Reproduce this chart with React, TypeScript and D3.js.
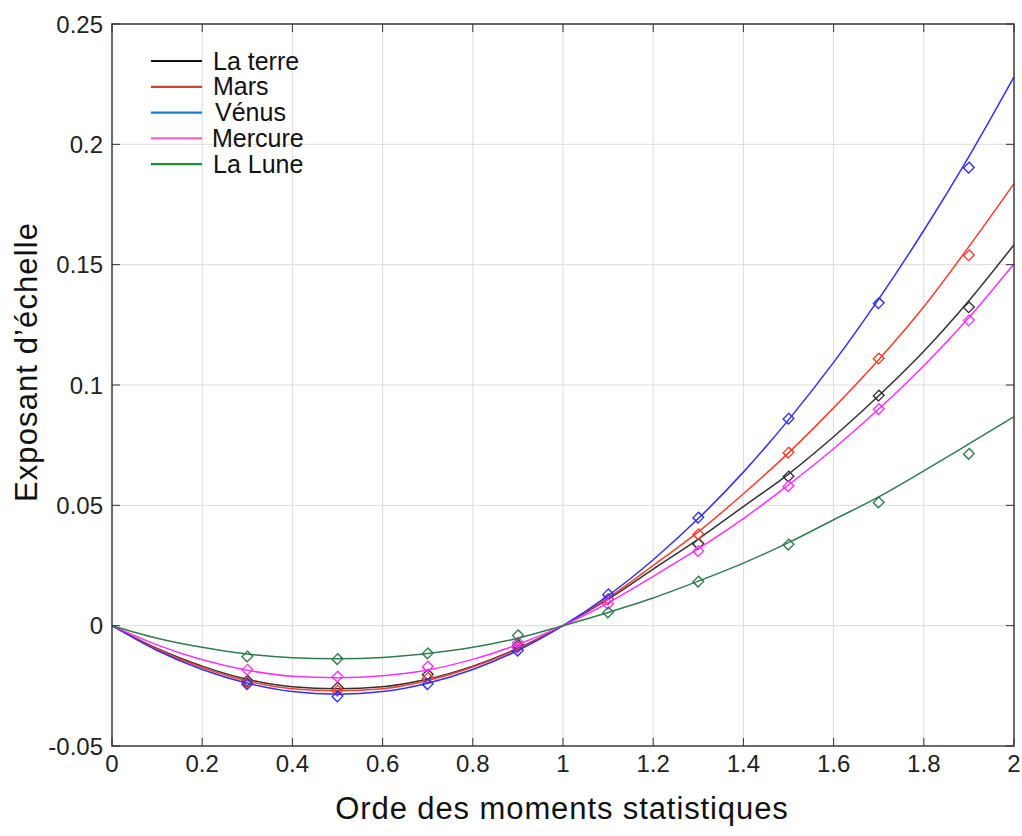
import React, { useEffect, useRef } from 'react';
import * as d3 from 'd3';

// fitted curve, read at q = 0, 0.1, ..., 2
const curveQ = [0, 0.1, 0.2, 0.3, 0.4, 0.5, 0.6, 0.7, 0.8, 0.9, 1, 1.1, 1.2, 1.3, 1.4, 1.5, 1.6, 1.7, 1.8, 1.9, 2];
const terreCurve = [0, -0.0095, -0.0168, -0.0223, -0.0254, -0.0262, -0.0254, -0.0222, -0.0168, -0.0094, 0, 0.011, 0.0235, 0.036, 0.0495, 0.063, 0.0785, 0.0955, 0.114, 0.135, 0.1583];
const marsCurve = [0, -0.0098, -0.0174, -0.023, -0.0262, -0.027, -0.0262, -0.0228, -0.0172, -0.0097, 0, 0.0115, 0.025, 0.039, 0.0548, 0.0718, 0.0905, 0.1105, 0.1325, 0.1575, 0.1837];
const venusCurve = [0, -0.0103, -0.0182, -0.0239, -0.0274, -0.0285, -0.0274, -0.0239, -0.0182, -0.0103, 0, 0.0125, 0.0274, 0.0445, 0.0638, 0.0855, 0.1094, 0.1357, 0.1642, 0.1949, 0.228];
const mercureCurve = [0, -0.008, -0.0142, -0.0185, -0.021, -0.0216, -0.0208, -0.0184, -0.014, -0.0078, 0, 0.0095, 0.0205, 0.032, 0.0445, 0.0585, 0.0735, 0.09, 0.108, 0.128, 0.1504];
const luneCurve = [0, -0.0052, -0.009, -0.0118, -0.0133, -0.0137, -0.0132, -0.0116, -0.009, -0.0052, 0, 0.0055, 0.0115, 0.0185, 0.026, 0.0345, 0.044, 0.0535, 0.0643, 0.0755, 0.0868];

// measured points
const pointQ = [0.3, 0.5, 0.7, 0.9, 1.1, 1.3, 1.5, 1.7, 1.9];
const terrePts = [-0.0229, -0.0257, -0.0203, -0.0081, 0.011, 0.034, 0.062, 0.0956, 0.1323];
const marsPts = [-0.0236, -0.027, -0.0217, -0.009, 0.011, 0.038, 0.0719, 0.111, 0.1539];
const venusPts = [-0.0243, -0.0294, -0.0243, -0.0104, 0.013, 0.0449, 0.086, 0.134, 0.1903];
const mercurePts = [-0.0183, -0.0212, -0.017, -0.007, 0.009, 0.031, 0.058, 0.09, 0.1269];
const lunePts = [-0.0128, -0.0139, -0.0115, -0.004, 0.0055, 0.0183, 0.0337, 0.0512, 0.0714];

const names = ['La terre', 'Mars', 'Vénus', 'Mercure', 'La Lune'];
const xTicks = [0, 0.2, 0.4, 0.6, 0.8, 1, 1.2, 1.4, 1.6, 1.8, 2];
const yTicks = [-0.05, 0, 0.05, 0.1, 0.15, 0.2, 0.25];

const series = [
  { name: names[0], curve: terreCurve, pts: terrePts, color: '#333333', legend: '#111111' },
  { name: names[1], curve: marsCurve, pts: marsPts, color: '#ff3b2a', legend: '#d8401e' },
  { name: names[2], curve: venusCurve, pts: venusPts, color: '#3030ff', legend: '#1f78d0' },
  { name: names[3], curve: mercureCurve, pts: mercurePts, color: '#ff30ff', legend: '#f064c8' },
  { name: names[4], curve: luneCurve, pts: lunePts, color: '#2f7d4c', legend: '#1a8c3c' },
];

const W = 1022;
const H = 836;
const margin = { top: 24, right: 8, bottom: 90, left: 112 };

export default function App() {
  const svgRef = useRef<SVGSVGElement>(null);

  useEffect(() => {
    if (!svgRef.current) return;
    const svg = d3.select(svgRef.current);
    svg.selectAll('*').remove();

    const iw = W - margin.left - margin.right;
    const ih = H - margin.top - margin.bottom;
    const x = d3.scaleLinear().domain([0, 2]).range([0, iw]);
    const y = d3.scaleLinear().domain([-0.05, 0.25]).range([ih, 0]);

    const g = svg.append('g').attr('transform', `translate(${margin.left},${margin.top})`);
    const font = '"Liberation Sans", Arial, sans-serif';

    // grid
    g.append('g').selectAll('line').data(xTicks.slice(1, -1)).enter().append('line')
      .attr('x1', d => x(d)).attr('x2', d => x(d)).attr('y1', 0).attr('y2', ih)
      .attr('stroke', '#dcdcdc').attr('stroke-width', 1);
    g.append('g').selectAll('line').data(yTicks.slice(1, -1)).enter().append('line')
      .attr('y1', d => y(d)).attr('y2', d => y(d)).attr('x1', 0).attr('x2', iw)
      .attr('stroke', '#dcdcdc').attr('stroke-width', 1);

    // curves
    const line = d3.line<number>()
      .x((_, i) => x(curveQ[i]))
      .y(d => y(d))
      .curve(d3.curveMonotoneX);

    const diamond = d3.symbol().type(d3.symbolSquare).size(52);

    series.forEach(s => {
      g.append('path')
        .datum(s.curve)
        .attr('fill', 'none')
        .attr('stroke', s.color)
        .attr('stroke-width', 1.5)
        .attr('d', line);
      g.append('g').selectAll('path').data(s.pts).enter().append('path')
        .attr('d', diamond)
        .attr('transform', (d, i) => `translate(${x(pointQ[i])},${y(d)}) rotate(45) scale(1,1.1)`)
        .attr('fill', 'none')
        .attr('stroke', s.color)
        .attr('stroke-width', 1.3);
    });

    // frame
    g.append('rect')
      .attr('x', 0).attr('y', 0).attr('width', iw).attr('height', ih)
      .attr('fill', 'none').attr('stroke', '#3a3a3a').attr('stroke-width', 1.5);

    // inner ticks on all sides
    const tk = 8;
    xTicks.forEach(t => {
      g.append('line').attr('x1', x(t)).attr('x2', x(t)).attr('y1', ih).attr('y2', ih - tk).attr('stroke', '#333');
      g.append('line').attr('x1', x(t)).attr('x2', x(t)).attr('y1', 0).attr('y2', tk).attr('stroke', '#333');
    });
    yTicks.forEach(t => {
      g.append('line').attr('y1', y(t)).attr('y2', y(t)).attr('x1', 0).attr('x2', tk).attr('stroke', '#333');
      g.append('line').attr('y1', y(t)).attr('y2', y(t)).attr('x1', iw).attr('x2', iw - tk).attr('stroke', '#333');
    });

    // tick labels
    g.append('g').selectAll('text').data(xTicks).enter().append('text')
      .attr('x', d => x(d)).attr('y', ih + 26)
      .attr('text-anchor', 'middle')
      .attr('font-family', font).attr('font-size', 24).attr('fill', '#222')
      .text(d => String(d));
    g.append('g').selectAll('text').data(yTicks).enter().append('text')
      .attr('x', -9).attr('y', d => y(d) + 8.5)
      .attr('text-anchor', 'end')
      .attr('font-family', font).attr('font-size', 24).attr('fill', '#222')
      .text(d => String(d));

    // axis titles
    svg.append('text')
      .attr('x', 562).attr('y', 819)
      .attr('text-anchor', 'middle')
      .attr('font-family', font).attr('font-size', 31).attr('letter-spacing', 0.9).attr('fill', '#111')
      .text('Orde des moments statistiques');
    svg.append('text')
      .attr('transform', 'translate(37, 362) rotate(-90)')
      .attr('text-anchor', 'middle')
      .attr('font-family', font).attr('font-size', 31).attr('letter-spacing', 1.1).attr('fill', '#111')
      .text('Exposant d\u2019échelle');

    // legend
    const leg = svg.append('g').attr('transform', 'translate(151,61)');
    const textX = [62, 62, 64, 61, 62];
    series.forEach((s, i) => {
      const row = leg.append('g').attr('transform', `translate(0,${i * 25.8})`);
      row.append('line').attr('x1', 0).attr('x2', 51).attr('y1', 0).attr('y2', 0)
        .attr('stroke', s.legend).attr('stroke-width', 2.2);
      row.append('text').attr('x', textX[i]).attr('y', 8.6)
        .attr('font-family', font).attr('font-size', 25).attr('fill', '#111')
        .text(s.name);
    });
  }, []);

  return (
    <svg
      ref={svgRef}
      width={W}
      height={H}
      style={{ position: 'absolute', left: 0, top: 0, background: '#fff' }}
    />
  );
}
